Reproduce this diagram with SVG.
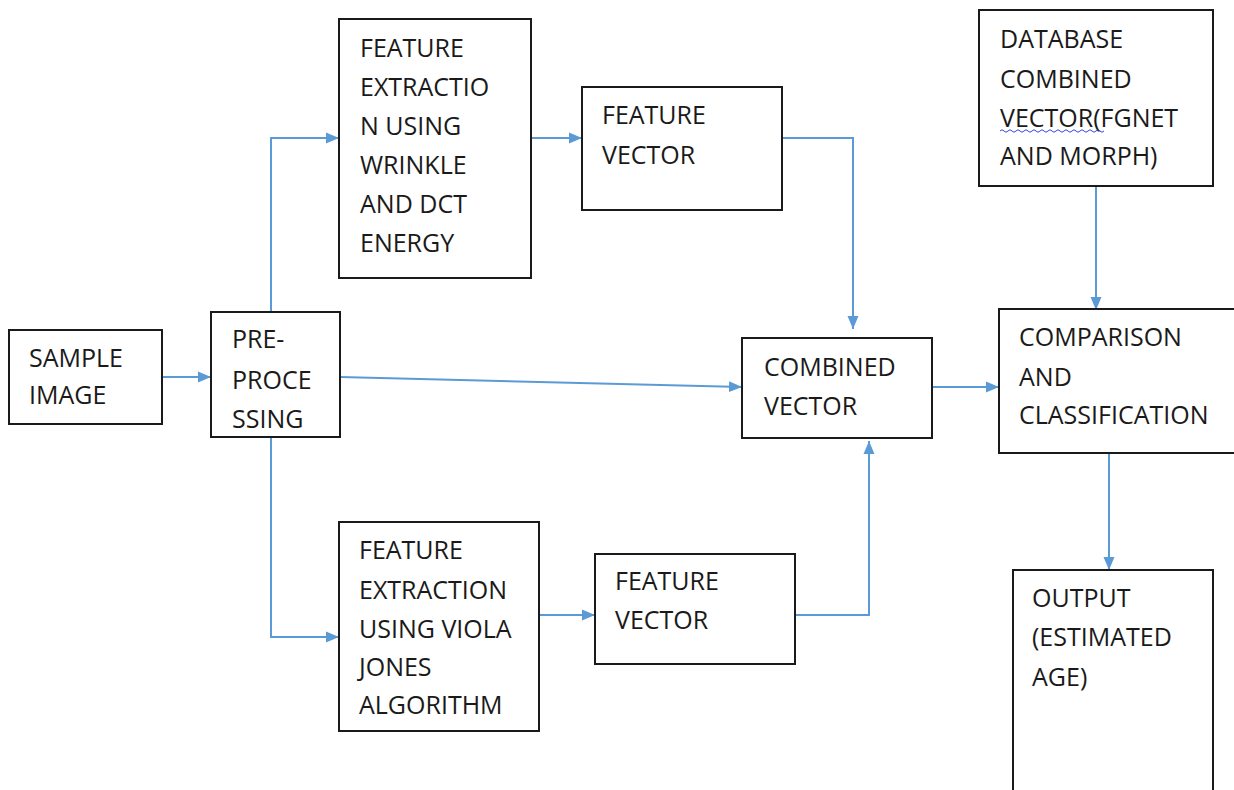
<svg xmlns="http://www.w3.org/2000/svg" width="1234" height="790" viewBox="0 0 1234 790">
<defs>
<style>
.box{fill:#fff;stroke:#1a1a1a;stroke-width:2}
.t{font-family:"Open Sans","Liberation Sans",sans-serif;font-size:25px;fill:#1a1a1a}
.c{fill:none;stroke:#5B9BD5;stroke-width:2}
</style>
<marker id="ah" markerUnits="userSpaceOnUse" markerWidth="13" markerHeight="12" viewBox="0 0 13 12" refX="13" refY="6" orient="auto">
<path d="M0,0.5 L13,6 L0,11.5 Z" fill="#5B9BD5"/>
</marker>
</defs>
<rect width="1234" height="790" fill="#fff"/>
<g id="connectors">
<path class="c" d="M162,377 L211,377" marker-end="url(#ah)"/>
<path class="c" d="M271,312 L271,138 L339,138" marker-end="url(#ah)"/>
<path class="c" d="M271,437 L271,637 L339,637" marker-end="url(#ah)"/>
<path class="c" d="M531,138 L582,138" marker-end="url(#ah)"/>
<path class="c" d="M782,138 L853,138 L853,329" marker-end="url(#ah)"/>
<path class="c" d="M340,377 L742,387" marker-end="url(#ah)"/>
<path class="c" d="M539,615 L595,615" marker-end="url(#ah)"/>
<path class="c" d="M795,615 L869,615 L869,441" marker-end="url(#ah)"/>
<path class="c" d="M932,387 L999,387" marker-end="url(#ah)"/>
<path class="c" d="M1096,186 L1096,310" marker-end="url(#ah)"/>
<path class="c" d="M1109,453 L1109,570" marker-end="url(#ah)"/>
</g>
<g id="sample">
<rect class="box" x="9" y="330" width="153" height="94"/>
<text class="t" x="29" y="367">SAMPLE</text>
<text class="t" x="29" y="404">IMAGE</text>
</g>
<g id="preprocessing">
<rect class="box" x="211" y="312" width="129" height="125"/>
<text class="t" x="232" y="348">PRE-</text>
<text class="t" x="232" y="389">PROCE</text>
<text class="t" x="232" y="428">SSING</text>
</g>
<g id="fe-top">
<rect class="box" x="339" y="19" width="192" height="259"/>
<text class="t" x="360" y="57">FEATURE</text>
<text class="t" x="360" y="96">EXTRACTIO</text>
<text class="t" x="360" y="135">N USING</text>
<text class="t" x="360" y="174">WRINKLE</text>
<text class="t" x="360" y="213">AND DCT</text>
<text class="t" x="360" y="252">ENERGY</text>
</g>
<g id="fv-top">
<rect class="box" x="582" y="87" width="200" height="123"/>
<text class="t" x="602" y="124">FEATURE</text>
<text class="t" x="602" y="164">VECTOR</text>
</g>
<g id="fe-bottom">
<rect class="box" x="339" y="522" width="200" height="209"/>
<text class="t" x="359" y="559">FEATURE</text>
<text class="t" x="359" y="599">EXTRACTION</text>
<text class="t" x="359" y="638">USING VIOLA</text>
<text class="t" x="359" y="676">JONES</text>
<text class="t" x="359" y="714">ALGORITHM</text>
</g>
<g id="fv-bottom">
<rect class="box" x="595" y="554" width="200" height="110"/>
<text class="t" x="615" y="590">FEATURE</text>
<text class="t" x="615" y="629">VECTOR</text>
</g>
<g id="combined">
<rect class="box" x="742" y="338" width="190" height="100"/>
<text class="t" x="764" y="376">COMBINED</text>
<text class="t" x="764" y="415">VECTOR</text>
</g>
<g id="database">
<rect class="box" x="979" y="10" width="234" height="176"/>
<text class="t" x="1000" y="48">DATABASE</text>
<text class="t" x="1000" y="88">COMBINED</text>
<text class="t" x="1000" y="127">VECTOR(FGNET</text>
<text class="t" x="1000" y="165">AND MORPH)</text>
<path d="M1000,131 q2,-2.5 4,0 t4,0 t4,0 t4,0 t4,0 t4,0 t4,0 t4,0 t4,0 t4,0 t4,0 t4,0 t4,0 t4,0 t4,0 t4,0 t4,0 t4,0 t4,0 t4,0 t4,0 t4,0 t4,0 t4,0 t4,0 t4,0" fill="none" stroke="#3344dd" stroke-width="1"/>
</g>
<g id="comparison">
<rect class="box" x="999" y="309" width="245" height="144"/>
<text class="t" x="1019" y="346">COMPARISON</text>
<text class="t" x="1019" y="386">AND</text>
<text class="t" x="1019" y="424">CLASSIFICATION</text>
</g>
<g id="output">
<rect class="box" x="1013" y="570" width="200" height="240"/>
<text class="t" x="1032" y="607">OUTPUT</text>
<text class="t" x="1032" y="646">(ESTIMATED</text>
<text class="t" x="1032" y="686">AGE)</text>
</g>
</svg>
